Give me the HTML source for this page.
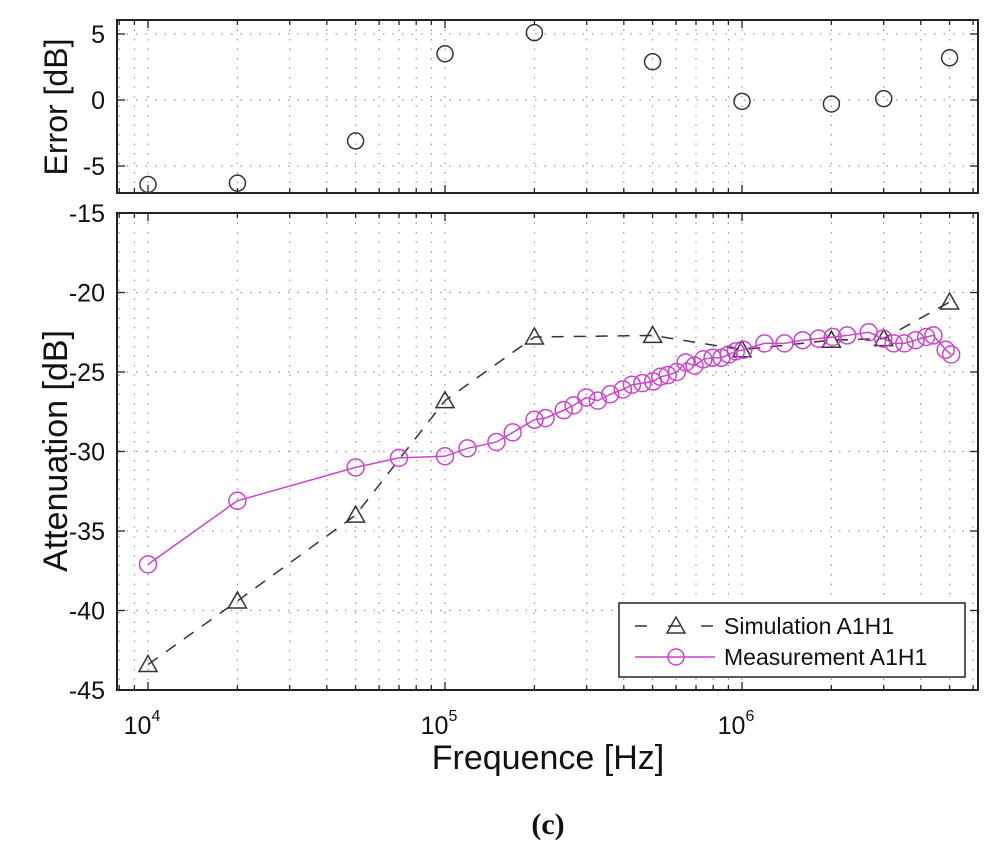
<!DOCTYPE html>
<html><head><meta charset="utf-8"><style>
body{margin:0;background:#fff;}
svg{display:block;font-family:"Liberation Sans",sans-serif;}
</style></head><body>
<svg id="chart" width="1000" height="854" viewBox="0 0 1000 854"></svg>
<script>
const errFreq=[1e4,2e4,5e4,1e5,2e5,5e5,1e6,2e6,3e6,5e6];
const errVals=[-6.4,-6.3,-3.1,3.5,5.1,2.9,-0.1,-0.3,0.1,3.2];
const simFreq=[1e4,2e4,5e4,1e5,2e5,5e5,1e6,2e6,3e6,5e6];
const simVals=[-43.4,-39.4,-34.0,-26.8,-22.8,-22.7,-23.6,-23.0,-22.9,-20.6];
const measFreq=[1e4,2e4,5e4,7e4,1e5,1.19e5,1.49e5,1.69e5,2.0e5,2.18e5,2.51e5,2.71e5,2.99e5,3.27e5,3.6e5,3.97e5,4.26e5,4.62e5,5.02e5,5.31e5,5.62e5,6.03e5,6.46e5,6.92e5,7.41e5,7.96e5,8.53e5,9.02e5,9.53e5,1.01e6,1.19e6,1.39e6,1.6e6,1.81e6,2.02e6,2.26e6,2.67e6,2.99e6,3.24e6,3.52e6,3.84e6,4.17e6,4.41e6,4.85e6,5.06e6];
const measVals=[-37.1,-33.1,-31.0,-30.4,-30.3,-29.8,-29.4,-28.8,-28.0,-27.9,-27.4,-27.1,-26.6,-26.8,-26.4,-26.1,-25.8,-25.7,-25.6,-25.3,-25.2,-25.0,-24.4,-24.6,-24.2,-24.1,-24.1,-23.9,-23.7,-23.6,-23.2,-23.2,-23.0,-22.9,-22.8,-22.7,-22.5,-22.9,-23.2,-23.2,-23.0,-22.8,-22.7,-23.6,-23.9];
const errTicks=[5,0,-5];
const attTicks=[-15,-20,-25,-30,-35,-40,-45];
const xDecades=[4,5,6];

const NS="http://www.w3.org/2000/svg";
const svg=document.getElementById('chart');
const L=117,R=978;
const x=f=>148+(Math.log10(f)-4)*297;
const T1=20,B1=193,T2=213,B2=690;
const yE=v=>100-v*13.2;
const yA=v=>213+(-15-v)*15.9;
function el(tag,a,parent){const e=document.createElementNS(NS,tag);for(const k in a)e.setAttribute(k,a[k]);(parent||svg).appendChild(e);return e;}

function panel(top,bot,yfun,ticks,name){
  const g=el('g',{});
  
  
  for(let d=3;d<=6;d++)for(let m=1;m<=9;m++){
    const f=m*Math.pow(10,d); const xx=x(f);
    if(xx<L+1||xx>R-1)continue;
    const gl=el('line',{x1:xx,x2:xx,y1:top,y2:bot,stroke:'#999','stroke-width':1.2,'stroke-dasharray':'1.5 8'},g);
    
    
    const len=m===1?8:5;
    el('line',{x1:xx,x2:xx,y1:bot,y2:bot-len,stroke:'#222','stroke-width':1.3},g);
    el('line',{x1:xx,x2:xx,y1:top,y2:top+len,stroke:'#222','stroke-width':1.3},g);
  }
  ticks.forEach(t=>{
    const yy=yfun(t);
    if(yy>top+1&&yy<bot-1){
      const gl=el('line',{x1:L,x2:R,y1:yy,y2:yy,stroke:'#999','stroke-width':1.2,'stroke-dasharray':'1.5 8'},g);
      
      
    }
    el('line',{x1:L,x2:L+8,y1:yy,y2:yy,stroke:'#222','stroke-width':1.3},g);
    el('line',{x1:R,x2:R-8,y1:yy,y2:yy,stroke:'#222','stroke-width':1.3},g);
    const tx=el('text',{x:L-12,y:yy+9,'text-anchor':'end','font-size':25,fill:'#111'},g);
    tx.textContent=String(t);
    
    
  });
  const fr=el('rect',{x:L,y:top,width:R-L,height:bot-top,fill:'none',stroke:'#222','stroke-width':2},g);
  
  
}
panel(T1,B1,yE,errTicks,'error-panel');
panel(T2,B2,yA,attTicks,'attenuation-panel');

xDecades.forEach(d=>{
  const t=el('text',{x:x(Math.pow(10,d))-6,y:734,'text-anchor':'middle','font-size':25,fill:'#111'});
  
  
  t.textContent='10';
  const s=el('tspan',{dy:-13,'font-size':16},t); s.textContent=String(d);
});

errFreq.forEach((f,i)=>{
  const c=el('circle',{cx:x(f),cy:yE(errVals[i]),r:8,fill:'none',stroke:'#333','stroke-width':1.5});
  
  
});

const sp=el('polyline',{points:simFreq.map((f,i)=>x(f)+','+yA(simVals[i])).join(' '),fill:'none',stroke:'#333','stroke-width':1.5,'stroke-dasharray':'12 10'});


function tri(cx,cy,parent){return el('polygon',{points:`${cx-9},${cy+7} ${cx+9},${cy+7} ${cx},${cy-9}`,fill:'none',stroke:'#333','stroke-width':1.5},parent);}
simFreq.forEach((f,i)=>{
  const t=tri(x(f),yA(simVals[i]));
  
  
});

const MC='#cc44cc';
const mp=el('polyline',{points:measFreq.map((f,i)=>x(f)+','+yA(measVals[i])).join(' '),fill:'none',stroke:MC,'stroke-width':1.5});


measFreq.forEach((f,i)=>{
  const c=el('circle',{cx:x(f),cy:yA(measVals[i]),r:8.5,fill:'none',stroke:MC,'stroke-width':1.5});
  
  
});

const lg=el('g',{});


el('rect',{x:619,y:603,width:346,height:74,fill:'#fff',stroke:'#222','stroke-width':1.5},lg);
el('line',{x1:635,x2:715,y1:626,y2:626,stroke:'#333','stroke-width':1.5,'stroke-dasharray':'12 21'},lg);
tri(676,626,lg);
const t1=el('text',{x:724,y:634,'font-size':23,fill:'#111'},lg); t1.textContent='Simulation A1H1';


el('line',{x1:635,x2:715,y1:657,y2:657,stroke:MC,'stroke-width':1.5},lg);
el('circle',{cx:676,cy:657,r:8,fill:'none',stroke:MC,'stroke-width':1.5},lg);
const t2=el('text',{x:724,y:665,'font-size':23,fill:'#111'},lg); t2.textContent='Measurement A1H1';



function title(txt,xx,yy,size,rot,name,extra){
  const t=el('text',Object.assign({x:xx,y:yy,'text-anchor':'middle','font-size':size,fill:'#111'},rot?{transform:`rotate(-90 ${xx} ${yy})`}:{},extra||{}));
  t.textContent=txt;
  
  
}
title('Error [dB]',67,107,32,true,'error-y-axis-title');
title('Attenuation [dB]',67,451,34,true,'attenuation-y-axis-title');
title('Frequence [Hz]',548,769,34,false,'x-axis-title');
title('(c)',548,834,30,false,'panel-label',{'font-family':'"Liberation Serif",serif','font-weight':'bold'});
</script>
</body></html>
